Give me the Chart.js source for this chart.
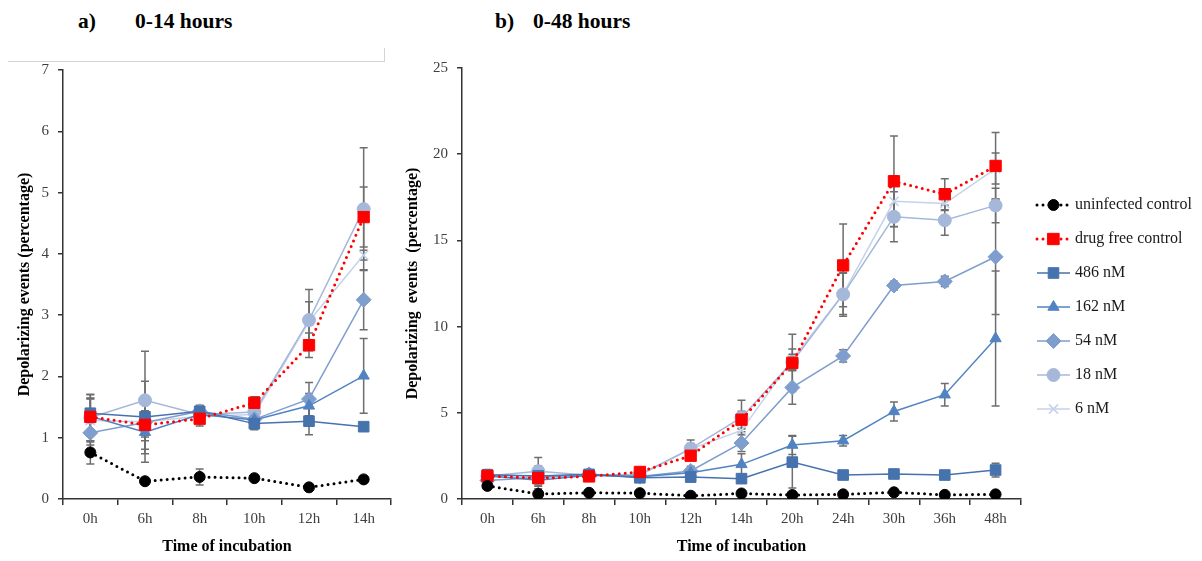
<!DOCTYPE html>
<html>
<head>
<meta charset="utf-8">
<script src="https://cdn.jsdelivr.net/npm/chart.js@4"></script>
<style>
  body { margin: 0; background: #fff; }
  #wrap { position: relative; width: 1202px; height: 561px; overflow: hidden; font-family: "Liberation Serif", serif; }
  canvas { position: absolute; top: 0; }
  .ttl { position: absolute; top: 9px; font-weight: bold; font-size: 21.5px; color: #000; }
  #box { position: absolute; left: 8px; top: 48px; width: 376px; height: 13px; border-right: 1px solid #d4d4d4; border-bottom: 1px solid #d4d4d4; }
</style>
</head>
<body>
<div id="wrap">
  <div id="box"></div>
  <span class="ttl" style="left:78px">a)</span>
  <span class="ttl" style="left:135px">0-14 hours</span>
  <span class="ttl" style="left:495px">b)</span>
  <span class="ttl" style="left:533px">0-48 hours</span>
  <canvas id="left" width="400" height="561" style="left:0"></canvas>
  <canvas id="right" width="802" height="561" style="left:400px"></canvas>
</div>
<script>
// Time points (left chart uses the first 6)
var hours = ['0h', '6h', '8h', '10h', '12h', '14h', '20h', '24h', '30h', '36h', '48h'];
var shortCount = 6;

// mean values (percentage)
var uninfected = [0.76, 0.29, 0.36, 0.34, 0.19, 0.32, 0.23, 0.27, 0.39, 0.24, 0.27];
var drugFree   = [1.34, 1.21, 1.31, 1.57, 2.51, 4.6, 7.9, 13.55, 18.43, 17.68, 19.32];
var nM486      = [1.4, 1.34, 1.43, 1.23, 1.27, 1.18, 2.14, 1.39, 1.45, 1.39, 1.68];
var nM162      = [1.35, 1.09, 1.38, 1.29, 1.52, 2.01, 3.13, 3.38, 5.08, 6.05, 9.31];
var nM54       = [1.08, 1.25, 1.43, 1.3, 1.63, 3.25, 6.47, 8.3, 12.38, 12.62, 14.05];
var nM18       = [1.33, 1.61, 1.38, 1.42, 2.92, 4.73, 7.95, 11.87, 16.37, 16.17, 17.03];
var nM6        = [1.28, 1.26, 1.35, 1.38, 2.9, 3.98, 8.1, 11.9, 17.27, 17.14, 19.17];

// error bars (+/-)
var uninfectedErr = [0.19, 0.04, 0.13, 0.04, 0.05, 0.05, 0.04, 0.05, 0.06, 0.04, 0.04];
var drugFreeErr   = [0.3, 0.2, 0.12, 0.1, 0.2, 0.49, 1.66, 2.4, 2.63, 0.9, 1.94];
var nM486Err      = [0.3, 0.3, 0.1, 0.1, 0.22, 0.05, 1.5, 0.1, 0.1, 0.1, 0.4];
var nM162Err      = [0.3, 0.35, 0.1, 0.15, 0.2, 0.61, 0.55, 0.3, 0.55, 0.65, 3.92];
var nM54Err       = [0.2, 0.3, 0.08, 0.1, 0.27, 0.49, 0.97, 0.35, 0.25, 0.3, 3.35];
var nM18Err       = [0.38, 0.8, 0.08, 0.1, 0.5, 1.0, 0.45, 1.27, 1.45, 0.87, 1.0];
var nM6Err        = [0.35, 0.66, 0.08, 0.1, 0.32, 0.08, 0.6, 1.2, 1.48, 0.4, 0.9];

var seriesNames = ['uninfected control', 'drug free control', '486 nM', '162 nM', '54 nM', '18 nM', '6 nM'];

var leftTicks = [0, 1, 2, 3, 4, 5, 6, 7];
var rightTicks = [0, 5, 10, 15, 20, 25];

var serif = 'Liberation Serif';

function makeDatasets(n) {
  var cut = function(a) { return a.slice(0, n); };
  return [
    { label: seriesNames[0], data: cut(uninfected), errors: cut(uninfectedErr), borderColor: '#000', backgroundColor: '#000',
      borderWidth: 3, borderDash: [0, 6], borderCapStyle: 'round', pointStyle: 'circle', pointRadius: 5.5, dotted: true },
    { label: seriesNames[1], data: cut(drugFree), errors: cut(drugFreeErr), borderColor: '#ff0000', backgroundColor: '#ff0000',
      borderWidth: 3, borderDash: [0, 6], borderCapStyle: 'round', pointStyle: 'rect', pointRadius: 8, dotted: true },
    { label: seriesNames[2], data: cut(nM486), errors: cut(nM486Err), borderColor: '#4672ad', backgroundColor: '#4672ad',
      borderWidth: 1.5, pointStyle: 'rect', pointRadius: 7.5 },
    { label: seriesNames[3], data: cut(nM162), errors: cut(nM162Err), borderColor: '#5183c3', backgroundColor: '#5183c3',
      borderWidth: 1.5, pointStyle: 'triangle', pointRadius: 6.5 },
    { label: seriesNames[4], data: cut(nM54), errors: cut(nM54Err), borderColor: '#7f9ecd', backgroundColor: '#7f9ecd',
      borderWidth: 1.5, pointStyle: 'rectRot', pointRadius: 7.5 },
    { label: seriesNames[5], data: cut(nM18), errors: cut(nM18Err), borderColor: '#a6b8da', backgroundColor: '#a6b8da',
      borderWidth: 1.5, pointStyle: 'circle', pointRadius: 6.5 },
    { label: seriesNames[6], data: cut(nM6), errors: cut(nM6Err), borderColor: '#c4d2ea', backgroundColor: '#c4d2ea',
      borderWidth: 1.5, pointStyle: 'crossRot', pointRadius: 6.5, pointBorderWidth: 1.5 }
  ].map(function(d) {
    d.pointBorderColor = d.borderColor;
    d.pointBackgroundColor = d.backgroundColor;
    if (!d.pointBorderWidth) d.pointBorderWidth = 1;
    d.tension = 0;
    return d;
  });
}

// vertical error bars with caps, drawn under the markers
var errorBars = {
  id: 'errorBars',
  beforeDatasetsDraw: function(chart) {
    var ctx = chart.ctx, y = chart.scales.y;
    ctx.save();
    ctx.strokeStyle = '#6e6e6e';
    ctx.lineWidth = 1.5;
    chart.data.datasets.forEach(function(ds, i) {
      chart.getDatasetMeta(i).data.forEach(function(pt, j) {
        var e = ds.errors[j];
        if (!e) return;
        var top = y.getPixelForValue(ds.data[j] + e);
        var bot = y.getPixelForValue(ds.data[j] - e);
        ctx.beginPath();
        ctx.moveTo(pt.x, top); ctx.lineTo(pt.x, bot);
        ctx.moveTo(pt.x - 4, top); ctx.lineTo(pt.x + 4, top);
        ctx.moveTo(pt.x - 4, bot); ctx.lineTo(pt.x + 4, bot);
        ctx.stroke();
      });
    });
    ctx.restore();
  }
};

// legend with a line sample through the marker
var sideLegend = {
  id: 'sideLegend',
  afterDraw: function(chart) {
    var ctx = chart.ctx;
    ctx.save();
    chart.data.datasets.forEach(function(ds, i) {
      var yy = 205 + i * 34;
      ctx.strokeStyle = ds.borderColor;
      ctx.fillStyle = ds.backgroundColor;
      if (ds.dotted) {
        ctx.lineWidth = 3; ctx.lineCap = 'round'; ctx.setLineDash([0, 6]);
      } else {
        ctx.lineWidth = 1.5; ctx.lineCap = 'butt'; ctx.setLineDash([]);
      }
      ctx.beginPath();
      ctx.moveTo(637, yy); ctx.lineTo(670, yy);
      ctx.stroke();
      ctx.setLineDash([]);
      ctx.lineWidth = ds.pointBorderWidth;
      Chart.helpers.drawPoint(ctx, { pointStyle: ds.pointStyle, radius: ds.pointRadius, rotation: 0, borderWidth: ds.pointBorderWidth }, 653.5, yy);
      ctx.fillStyle = '#1a1a1a';
      ctx.font = '16px "' + serif + '"';
      ctx.textBaseline = 'middle';
      ctx.fillText(ds.label, 675, yy);
    });
    ctx.restore();
  }
};

function makeChart(id, n, yTicks, yTitle, yWidth, pad, titlePad) {
  var yMax = yTicks[yTicks.length - 1];
  return new Chart(document.getElementById(id), {
    type: 'line',
    data: { labels: hours.slice(0, n), datasets: makeDatasets(n) },
    options: {
      responsive: false,
      animation: false,
      devicePixelRatio: 1,
      layout: { padding: pad },
      plugins: { legend: { display: false }, tooltip: { enabled: false } },
      scales: {
        x: {
          offset: true,
          grid: { offset: true, drawOnChartArea: false, drawTicks: true, tickLength: 6, color: '#333', lineWidth: 1.5 },
          border: { display: true, color: '#333', width: 1.5 },
          ticks: { color: '#404040', font: { family: serif, size: 15 }, padding: 5, maxRotation: 0 },
          title: { display: true, text: 'Time of incubation', color: '#000', font: { family: serif, size: 16, weight: 'bold' }, padding: { top: 4, bottom: 5 } },
          afterFit: function(s) { s.height = 62; }
        },
        y: {
          min: 0, max: yMax,
          afterBuildTicks: function(s) { s.ticks = yTicks.map(function(v) { return { value: v }; }); },
          grid: { drawOnChartArea: false, drawTicks: true, tickLength: 5, color: '#333', lineWidth: 1.5 },
          border: { display: true, color: '#333', width: 1.5 },
          ticks: { color: '#404040', font: { family: serif, size: 15 }, padding: 9 },
          title: { display: true, text: yTitle, color: '#000', font: { family: serif, size: 16, weight: 'bold' }, padding: { top: titlePad, bottom: 0 } },
          afterFit: function(s) { s.width = yWidth; }
        }
      }
    },
    plugins: id === 'right' ? [errorBars, sideLegend] : [errorBars]
  });
}

makeChart('left', shortCount, leftTicks, 'Depolarizing events (percentage)', 63,
  { left: 0, top: 70, right: 6, bottom: 0 }, 15);
makeChart('right', hours.length, rightTicks, 'Depolarizing  events  (percentage)', 62,
  { left: 0, top: 68, right: 181, bottom: 0 }, 3);
</script>
</body>
</html>
